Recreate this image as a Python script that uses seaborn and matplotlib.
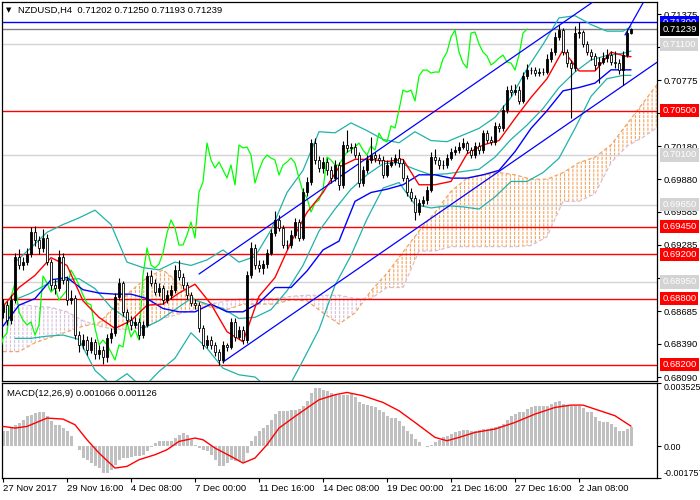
import numpy as np
import matplotlib
matplotlib.use("Agg")
import matplotlib.pyplot as plt
import matplotlib.transforms as mtransforms
import seaborn as sns

# ---------------- data ----------------
opens = [0.68680, 0.68742, 0.68606, 0.68787, 0.69176, 0.69104, 0.69131, 0.69203, 0.69402, 0.69330,
         0.69258, 0.69348, 0.69131, 0.68923, 0.68896, 0.69176, 0.68968, 0.68787, 0.68805, 0.68470,
         0.68380, 0.68425, 0.68334, 0.68407, 0.68298, 0.68334, 0.68271, 0.68443, 0.68488, 0.68814,
         0.68941, 0.68678, 0.68606, 0.68561, 0.68588, 0.68470, 0.68561, 0.69004, 0.68941, 0.68859,
         0.68896, 0.68787, 0.68832, 0.68877, 0.69058, 0.68995, 0.68923, 0.68832, 0.68760, 0.68742,
         0.68534, 0.68380, 0.68425, 0.68380, 0.68316, 0.68244, 0.68380, 0.68362, 0.68588, 0.68452,
         0.68515, 0.68425, 0.69013, 0.69258, 0.69104, 0.69077, 0.69113, 0.69212, 0.69393, 0.69511,
         0.69439, 0.69285, 0.69285, 0.69375, 0.69493, 0.69348, 0.69764, 0.69855, 0.70208, 0.70054,
         0.69982, 0.70036, 0.69963, 0.69891, 0.70009, 0.69828, 0.70190, 0.70163, 0.70172, 0.70099,
         0.69846, 0.69963, 0.70054, 0.70099, 0.70072, 0.70054, 0.69918, 0.70009, 0.70036, 0.70072,
         0.70027, 0.69891, 0.69764, 0.69710, 0.69583, 0.69665, 0.69692, 0.69782, 0.70081, 0.70054,
         0.70009, 0.70009, 0.70072, 0.70126, 0.70144, 0.70172, 0.70208, 0.70144, 0.70099, 0.70181,
         0.70144, 0.70298, 0.70235, 0.70217, 0.70362, 0.70344, 0.70506, 0.70687, 0.70669, 0.70687,
         0.70588, 0.70814, 0.70868, 0.70868, 0.70841, 0.70850, 0.70850, 0.70968, 0.71031, 0.71167,
         0.71230, 0.71031, 0.70932, 0.70887, 0.71203, 0.71212, 0.71104, 0.71031, 0.70995, 0.70914,
         0.70941, 0.70977, 0.71004, 0.70941, 0.70932, 0.70868, 0.71004, 0.71202]
closes = [0.68742, 0.68606, 0.68787, 0.69176, 0.69104, 0.69131, 0.69203, 0.69402, 0.69330, 0.69258,
          0.69348, 0.69131, 0.68923, 0.68896, 0.69176, 0.68968, 0.68787, 0.68805, 0.68470, 0.68380,
          0.68425, 0.68334, 0.68407, 0.68298, 0.68334, 0.68271, 0.68443, 0.68488, 0.68814, 0.68941,
          0.68678, 0.68606, 0.68561, 0.68588, 0.68470, 0.68561, 0.69004, 0.68941, 0.68859, 0.68896,
          0.68787, 0.68832, 0.68877, 0.69058, 0.68995, 0.68923, 0.68832, 0.68760, 0.68742, 0.68534,
          0.68380, 0.68425, 0.68380, 0.68316, 0.68244, 0.68380, 0.68362, 0.68588, 0.68452, 0.68515,
          0.68425, 0.69013, 0.69258, 0.69104, 0.69077, 0.69113, 0.69212, 0.69393, 0.69511, 0.69439,
          0.69285, 0.69285, 0.69375, 0.69493, 0.69348, 0.69764, 0.69855, 0.70208, 0.70054, 0.69982,
          0.70036, 0.69963, 0.69891, 0.70009, 0.69828, 0.70190, 0.70163, 0.70172, 0.70099, 0.69846,
          0.69963, 0.70054, 0.70099, 0.70072, 0.70054, 0.69918, 0.70009, 0.70036, 0.70072, 0.70027,
          0.69891, 0.69764, 0.69710, 0.69583, 0.69665, 0.69692, 0.69782, 0.70081, 0.70054, 0.70009,
          0.70009, 0.70072, 0.70126, 0.70144, 0.70172, 0.70208, 0.70144, 0.70099, 0.70181, 0.70144,
          0.70298, 0.70235, 0.70217, 0.70362, 0.70344, 0.70506, 0.70687, 0.70669, 0.70687, 0.70588,
          0.70814, 0.70868, 0.70868, 0.70841, 0.70850, 0.70850, 0.70968, 0.71031, 0.71167, 0.71230,
          0.71031, 0.70932, 0.70887, 0.71203, 0.71212, 0.71104, 0.71031, 0.70995, 0.70914, 0.70941,
          0.70977, 0.71004, 0.70941, 0.70932, 0.70868, 0.71004, 0.71202, 0.71239]
highs = [0.6880, 0.6878, 0.6883, 0.6921, 0.6925, 0.6918, 0.6926, 0.6945, 0.6946, 0.6937,
         0.6943, 0.6938, 0.6916, 0.6898, 0.6924, 0.6921, 0.6900, 0.6888, 0.6883, 0.6851,
         0.6848, 0.6846, 0.6845, 0.6843, 0.6838, 0.6837, 0.6848, 0.6853, 0.6885, 0.6899,
         0.6896, 0.6871, 0.6864, 0.6863, 0.6862, 0.6860, 0.6904, 0.6906, 0.6898, 0.6894,
         0.6892, 0.6888, 0.6892, 0.6910, 0.6915, 0.6903, 0.6895, 0.6886, 0.6880, 0.6877,
         0.6856, 0.6847, 0.6846, 0.6841, 0.6834, 0.6842, 0.6840, 0.6862, 0.6862, 0.6855,
         0.6855, 0.6905, 0.6931, 0.6929, 0.6915, 0.6915, 0.6925, 0.6943, 0.6959, 0.6956,
         0.6947, 0.6933, 0.6942, 0.6953, 0.6952, 0.6980, 0.6990, 0.7024, 0.7025, 0.7009,
         0.7008, 0.7007, 0.7000, 0.7005, 0.7004, 0.7023, 0.7033, 0.7021, 0.7021, 0.7013,
         0.7000, 0.7010, 0.7026, 0.7013, 0.7011, 0.7009, 0.7005, 0.7008, 0.7011, 0.7015,
         0.7006, 0.6992, 0.6980, 0.6974, 0.6970, 0.6973, 0.6982, 0.7013, 0.7015, 0.7008,
         0.7005, 0.7011, 0.7016, 0.7018, 0.7022, 0.7025, 0.7023, 0.7017, 0.7022, 0.7022,
         0.7033, 0.7033, 0.7027, 0.7040, 0.7039, 0.7055, 0.7072, 0.7073, 0.7074, 0.7072,
         0.7085, 0.7092, 0.7090, 0.7090, 0.7089, 0.7089, 0.7101, 0.7107, 0.7121, 0.7128,
         0.7125, 0.7106, 0.7096, 0.7127, 0.7130, 0.7123, 0.7113, 0.7106, 0.7102, 0.7099,
         0.7103, 0.7106, 0.7104, 0.7104, 0.7097, 0.7104, 0.7124, 0.71250]
lows = [0.6862, 0.6856, 0.6857, 0.6876, 0.6907, 0.6906, 0.6910, 0.6918, 0.6928, 0.6920,
        0.6922, 0.6910, 0.6888, 0.6884, 0.6887, 0.6893, 0.6874, 0.6875, 0.6843, 0.6832,
        0.6834, 0.6829, 0.6831, 0.6825, 0.6825, 0.6821, 0.6823, 0.6840, 0.6846, 0.6879,
        0.6864, 0.6857, 0.6852, 0.6853, 0.6843, 0.6844, 0.6854, 0.6891, 0.6883, 0.6882,
        0.6875, 0.6876, 0.6880, 0.6885, 0.6897, 0.6889, 0.6880, 0.6873, 0.6871, 0.6850,
        0.6834, 0.6835, 0.6834, 0.6828, 0.6820, 0.6822, 0.6833, 0.6834, 0.6842, 0.6843,
        0.6839, 0.6840, 0.6899, 0.6907, 0.6904, 0.6902, 0.6908, 0.6919, 0.6937, 0.6941,
        0.6926, 0.6925, 0.6926, 0.6935, 0.6932, 0.6933, 0.6973, 0.6983, 0.7002, 0.6995,
        0.6994, 0.6992, 0.6985, 0.6986, 0.6978, 0.6980, 0.7013, 0.7012, 0.7007, 0.6981,
        0.6982, 0.6994, 0.7003, 0.7004, 0.7002, 0.6989, 0.6990, 0.6999, 0.7001, 0.6999,
        0.6986, 0.6973, 0.6968, 0.6951, 0.6956, 0.6964, 0.6966, 0.6976, 0.7002, 0.6997,
        0.6997, 0.6998, 0.7005, 0.7010, 0.7012, 0.7015, 0.7012, 0.7007, 0.7007, 0.7011,
        0.7012, 0.7021, 0.7019, 0.7019, 0.7031, 0.7032, 0.7048, 0.7063, 0.7064, 0.7056,
        0.7057, 0.7079, 0.7083, 0.7081, 0.7081, 0.7082, 0.7083, 0.7094, 0.7100, 0.7114,
        0.7100, 0.7090, 0.7043, 0.7086, 0.7116, 0.7108, 0.7100, 0.7096, 0.7087, 0.7075,
        0.7092, 0.7094, 0.7091, 0.7089, 0.7083, 0.7073, 0.7099, 0.71193]

# Ichimoku lines, sampled every 4 bars (bar 0, 4, ... 156, then 157)
line_bars = [0, 4, 8, 12, 16, 20, 24, 28, 32, 36, 40, 44, 48, 52, 56, 60, 64, 68, 72, 76,
             80, 84, 88, 92, 96, 100, 104, 108, 112, 116, 120, 124, 128, 132, 136, 140, 144, 148, 152, 156, 157]
tenkan = [0.6873, 0.6890, 0.6901, 0.6917, 0.6910, 0.6878, 0.6863, 0.6853, 0.6860, 0.6874,
          0.6875, 0.6885, 0.6893, 0.6875, 0.6850, 0.6841, 0.6882, 0.6899, 0.6931, 0.6958,
          0.6976, 0.6999, 0.7006, 0.7006, 0.7004, 0.7006, 0.6983, 0.6983, 0.6986, 0.7011,
          0.7019, 0.7023, 0.7043, 0.7062, 0.7079, 0.7105, 0.7086, 0.7086, 0.7103, 0.7099, 0.7099]
kijun = [0.6855, 0.6874, 0.6880, 0.6897, 0.6899, 0.6888, 0.6885, 0.6884, 0.6884, 0.6880,
         0.6871, 0.6868, 0.6868, 0.6875, 0.6868, 0.6868, 0.6876, 0.6890, 0.6890, 0.6905,
         0.6924, 0.6932, 0.6968, 0.6976, 0.6979, 0.6983, 0.6992, 0.6992, 0.6989, 0.6989,
         0.6992, 0.6996, 0.7013, 0.7034, 0.7050, 0.7068, 0.7071, 0.7075, 0.7087, 0.7087, 0.7087]

# cloud (Senkou spans), every 4 bars from bar 0 to bar 164
cloud_bars = list(range(0, 168, 4))
span_a = [0.6832, 0.6832, 0.6840, 0.6845, 0.6850, 0.6855, 0.6858, 0.6873, 0.6887, 0.6899,
          0.6906, 0.6894, 0.6879, 0.6872, 0.6870, 0.6875, 0.6875, 0.6875, 0.6879, 0.6878,
          0.6867, 0.6857, 0.6867, 0.6887, 0.6903, 0.6922, 0.6941, 0.6958, 0.6977, 0.6989,
          0.6992, 0.6994, 0.6992, 0.6988, 0.6988, 0.6994, 0.7003, 0.7008, 0.7019, 0.7038,
          0.7057, 0.7076]
span_b = [0.6875, 0.6875, 0.6873, 0.6872, 0.6868, 0.6860, 0.6855, 0.6852, 0.6852, 0.6855,
          0.6862, 0.6866, 0.6870, 0.6875, 0.6878, 0.6880, 0.6880, 0.6880, 0.6882, 0.6883,
          0.6883, 0.6883, 0.6880, 0.6880, 0.6890, 0.6890, 0.6923, 0.6923, 0.6927, 0.6927,
          0.6927, 0.6927, 0.6927, 0.6928, 0.6936, 0.6968, 0.6968, 0.6975, 0.7003, 0.7018,
          0.7026, 0.7036]

# Bollinger bands, bars 3, 7, ... 155, 157
bb_bars = [3, 7, 11, 15, 19, 23, 27, 31, 35, 39, 43, 47, 51, 55, 59, 63, 67, 71, 75, 79,
           83, 87, 91, 95, 99, 103, 107, 111, 115, 119, 123, 127, 131, 135, 139, 143, 147, 151, 155, 157]
bb_upper = [0.6913, 0.6926, 0.6940, 0.6947, 0.6953, 0.6960, 0.6947, 0.6913, 0.6908, 0.6906,
            0.6913, 0.6910, 0.6915, 0.6924, 0.6913, 0.6918, 0.6942, 0.6976, 0.6996, 0.7031,
            0.7030, 0.7039, 0.7032, 0.7024, 0.7021, 0.7031, 0.7023, 0.7022, 0.7028, 0.7034,
            0.7044, 0.7062, 0.7088, 0.7110, 0.7134, 0.7136, 0.7128, 0.7122, 0.7122, 0.7126]
bb_mid = [0.6879, 0.6885, 0.6893, 0.6897, 0.6898, 0.6889, 0.6872, 0.6862, 0.6853, 0.6860,
          0.6870, 0.6880, 0.6875, 0.6871, 0.6862, 0.6863, 0.6870, 0.6887, 0.6910, 0.6941,
          0.6961, 0.6979, 0.6992, 0.7002, 0.7003, 0.6997, 0.6992, 0.6993, 0.6995, 0.6997,
          0.7008, 0.7024, 0.7037, 0.7052, 0.7071, 0.7085, 0.7096, 0.7100, 0.7102, 0.7104]
bb_lower = [0.6844, 0.6844, 0.6846, 0.6847, 0.6843, 0.6815, 0.6802, 0.6812, 0.6799, 0.6814,
            0.6826, 0.6849, 0.6835, 0.6817, 0.6811, 0.6809, 0.6797, 0.6797, 0.6824, 0.6852,
            0.6892, 0.6919, 0.6952, 0.6980, 0.6985, 0.6965, 0.6962, 0.6964, 0.6963, 0.6961,
            0.6972, 0.6986, 0.6986, 0.6994, 0.7007, 0.7034, 0.7063, 0.7079, 0.7082, 0.7082]

# trend channel and short trend line (end points)
chan_upper_bars = [49, 160]
chan_upper = [0.69022, 0.71797]
chan_lower_bars = [55, 164]
chan_lower = [0.68226, 0.70951]
steep_bars = [155.5, 160]
steep_vals = [0.71185, 0.71475]

# horizontal levels
level_values = [0.71300, 0.71239, 0.71100, 0.70500, 0.70100, 0.69650, 0.69450, 0.69200, 0.68950, 0.68800, 0.68200]
level_line_colors = ["#0000FF", "#808080", "#D3D3D3", "#FF0000", "#D3D3D3", "#D3D3D3",
                     "#FF0000", "#FF0000", "#D3D3D3", "#FF0000", "#FF0000"]
level_box_colors = ["#0000FF", "#000000", "#D3D3D3", "#FF0000", "#D3D3D3", "#D3D3D3",
                    "#FF0000", "#FF0000", "#D3D3D3", "#FF0000", "#FF0000"]
price_ticks = [0.71375, 0.71075, 0.70775, 0.70480, 0.70180, 0.69880, 0.69585, 0.69285,
               0.68985, 0.68685, 0.68390, 0.68090]

# MACD (x 1e-3)
macd_hist = [0.833, 0.833, 1.019, 1.204, 1.296, 1.481, 1.667, 1.759, 1.852, 1.889,
             1.889, 1.667, 1.389, 1.204, 1.204, 1.019, 0.833, 0.556, 0.000, -0.185,
             -0.648, -0.741, -0.926, -1.111, -1.204, -1.481, -1.481, -1.296, -1.019, -0.741,
             -0.648, -0.648, -0.593, -0.556, -0.519, -0.463, -0.241, -0.037, 0.185, 0.315,
             0.278, 0.278, 0.315, 0.463, 0.611, 0.741, 0.648, 0.370, 0.093, -0.093,
             -0.185, -0.278, -0.463, -0.741, -1.111, -1.111, -0.926, -0.741, -0.833, -0.833,
             -0.889, -0.370, 0.278, 0.556, 0.833, 1.019, 1.204, 1.481, 1.815, 1.944,
             1.944, 1.944, 2.000, 2.000, 2.074, 2.259, 2.500, 2.963, 3.241, 3.241,
             3.148, 3.056, 2.963, 2.870, 2.870, 2.870, 2.870, 2.907, 2.722, 2.444,
             2.352, 2.296, 2.222, 2.167, 2.037, 1.889, 1.704, 1.556, 1.556, 1.426,
             1.148, 0.870, 0.685, 0.407, 0.222, 0.020, -0.040, 0.074, 0.259, 0.370,
             0.500, 0.593, 0.685, 0.815, 0.870, 0.907, 0.907, 0.870, 0.870, 0.907,
             0.963, 0.963, 1.000, 1.056, 1.111, 1.241, 1.481, 1.704, 1.796, 1.889,
             1.926, 2.074, 2.167, 2.222, 2.222, 2.222, 2.259, 2.352, 2.444, 2.537,
             2.352, 2.259, 2.259, 2.259, 2.259, 2.111, 1.926, 1.889, 1.611, 1.426,
             1.370, 1.333, 1.241, 1.056, 0.870, 0.870, 0.963, 1.066]
sig_bars = [0, 3, 6, 11, 15, 18, 21, 24, 28, 31, 34, 38, 41, 44, 48, 50, 53, 57, 60, 63,
            66, 69, 73, 76, 79, 83, 86, 90, 95, 99, 103, 108, 111, 114, 118, 123, 128, 133, 138, 142,
            145, 148, 153, 157]
sig_vals = [1.111, 1.019, 1.111, 1.574, 1.519, 1.204, 0.370, -0.370, -1.204, -1.111,
            -0.741, -0.463, -0.185, 0.278, 0.463, 0.370, -0.093, -0.556, -0.926, -0.648,
            0.093, 1.019, 1.667, 2.130, 2.593, 2.870, 3.000, 2.815, 2.444, 1.981,
            1.333, 0.500, 0.315, 0.500, 0.778, 0.963, 1.333, 1.796, 2.167, 2.296,
            2.296, 2.074, 1.704, 1.126]
macd_ticks = [0.003525, 0.0, -0.001757]
macd_tick_labels = ["0.003525", "0.00", "-0.001757"]

date_bars = [0, 16, 32, 48, 64, 80, 96, 112, 128, 144]
date_labels = ["27 Nov 2017", "29 Nov 16:00", "4 Dec 08:00", "7 Dec 00:00", "11 Dec 16:00",
               "14 Dec 08:00", "19 Dec 00:00", "21 Dec 16:00", "27 Dec 16:00", "2 Jan 08:00"]
chikou_shift = 26

# ---------------- drawing ----------------
sns.set_style("white")
plt.rcParams["font.family"] = ["Liberation Sans", "DejaVu Sans"]
plt.rcParams["hatch.linewidth"] = 0.8
plt.rcParams["patch.force_edgecolor"] = False
FS = 6.8

fig = plt.figure(figsize=(7, 5), dpi=100)
fig.patch.set_facecolor("white")
ax = fig.add_axes([2 / 700, 119 / 500, 655 / 700, 379 / 500])
axm = fig.add_axes([2 / 700, 22 / 500, 655 / 700, 95 / 500])

n = len(closes)
bars = np.arange(n)
o = np.array(opens)
c = np.array(closes)
h = np.array(highs)
lo = np.array(lows)

# cloud
cb = np.array(cloud_bars, dtype=float)
A = np.array(span_a)
B = np.array(span_b)
ax.fill_between(cb, A, B, where=A >= B, interpolate=True, facecolor="none",
                edgecolor="#F4A460", hatch="||||", linewidth=0, zorder=1)
ax.fill_between(cb, A, B, where=A < B, interpolate=True, facecolor="none",
                edgecolor="#D8BFD8", hatch="||||", linewidth=0, zorder=1)
ax.fill_between(cb, A, B, facecolor="none", edgecolor="white", hatch="----",
                linewidth=0, zorder=1.1)
sns.lineplot(x=cb, y=A, ax=ax, color="#F4A460", linewidth=0.9, linestyle=(0, (3, 2)), zorder=1.5)
sns.lineplot(x=cb, y=B, ax=ax, color="#D8BFD8", linewidth=0.9, linestyle=(0, (3, 2)), zorder=1.5)

# horizontal levels
for v, col in zip(level_values, level_line_colors):
    ax.axhline(v, color=col, linewidth=1.0, zorder=2)

# Bollinger bands
for series in (bb_upper, bb_mid, bb_lower):
    sns.lineplot(x=bb_bars, y=series, ax=ax, color="#20B2AA", linewidth=0.9, zorder=3)

# Ichimoku lines
sns.lineplot(x=bars - chikou_shift, y=c, ax=ax, color="#00FF00", linewidth=0.9, zorder=3)
sns.lineplot(x=line_bars, y=kijun, ax=ax, color="#0000FF", linewidth=1.0, zorder=3.2)
sns.lineplot(x=line_bars, y=tenkan, ax=ax, color="#FF0000", linewidth=1.0, zorder=3.3)

# channel lines
sns.lineplot(x=chan_upper_bars, y=chan_upper, ax=ax, color="#0000FF", linewidth=0.9, zorder=3.4)
sns.lineplot(x=chan_lower_bars, y=chan_lower, ax=ax, color="#0000FF", linewidth=0.9, zorder=3.4)
sns.lineplot(x=steep_bars, y=steep_vals, ax=ax, color="#0000FF", linewidth=0.9, zorder=3.4)

# candles
ax.vlines(bars, lo, h, color="black", linewidth=0.8, zorder=4)
body_bottom = np.minimum(o, c)
body_h = np.maximum(np.abs(c - o), 0.00002)
body_col = np.where(c >= o, "black", "white")
ax.bar(bars, body_h, bottom=body_bottom, width=0.7, color=body_col,
       edgecolor="black", linewidth=0.6, zorder=5)

ax.set_xlim(-0.25, 163.5)
ax.set_ylim(0.68054, 0.71484)
ax.set_xlabel("")
ax.set_ylabel("")
ax.set_xticks([])
ax.yaxis.tick_right()
ax.set_yticks(price_ticks)
ax.set_yticklabels([f"{t:.5f}" for t in price_ticks])
ax.tick_params(axis="y", right=True, left=False, length=3, width=0.8, pad=2,
               labelsize=FS, direction="out", colors="black")
for sp in ax.spines.values():
    sp.set_color("black")
    sp.set_linewidth(0.9)

trans = mtransforms.blended_transform_factory(ax.transAxes, ax.transData)
for v, col in zip(level_values, level_box_colors):
    ax.text(1.008, v, f"{v:.5f}", transform=trans, ha="left", va="center",
            fontsize=FS, color="white", clip_on=False, zorder=10,
            bbox=dict(boxstyle="square,pad=0.22", facecolor=col, edgecolor="none"))

# MACD
axm.bar(bars, np.array(macd_hist) * 1e-3, width=0.75, color="#C0C0C0",
        edgecolor="none", linewidth=0, zorder=2)
sns.lineplot(x=sig_bars, y=np.array(sig_vals) * 1e-3, ax=axm, color="#FF0000", linewidth=1.0, zorder=3)
axm.set_xlim(-0.25, 163.5)
axm.set_ylim(-0.001757, 0.003525)
axm.set_xlabel("")
axm.set_ylabel("")
axm.yaxis.tick_right()
axm.set_yticks(macd_ticks)
axm.set_yticklabels(macd_tick_labels)
axm.tick_params(axis="y", right=True, left=False, length=3, width=0.8, pad=2,
                labelsize=6.4, direction="out", colors="black")
tl = axm.get_yticklabels()
tl[0].set_va("top")
tl[2].set_va("bottom")
axm.set_xticks(date_bars)
axm.set_xticklabels(date_labels, ha="left")
axm.tick_params(axis="x", bottom=True, length=3, width=0.8, pad=1.5,
                labelsize=FS, direction="out", colors="black")
for sp in axm.spines.values():
    sp.set_color("black")
    sp.set_linewidth(0.9)
axm.text(0.008, 0.94, "MACD(12,26,9) 0.001066 0.001126", transform=axm.transAxes,
         ha="left", va="top", fontsize=FS, color="black")

# header
fig.text(6 / 700, 1 - 10 / 500, "\u25bc", fontsize=5, color="black", va="center", ha="left",
         family=["DejaVu Sans"])
fig.text(18 / 700, 1 - 10 / 500, "NZDUSD,H4  0.71202 0.71250 0.71193 0.71239",
         fontsize=FS, color="black", va="center", ha="left")

fig.savefig("out.png", dpi=100, facecolor="white")
